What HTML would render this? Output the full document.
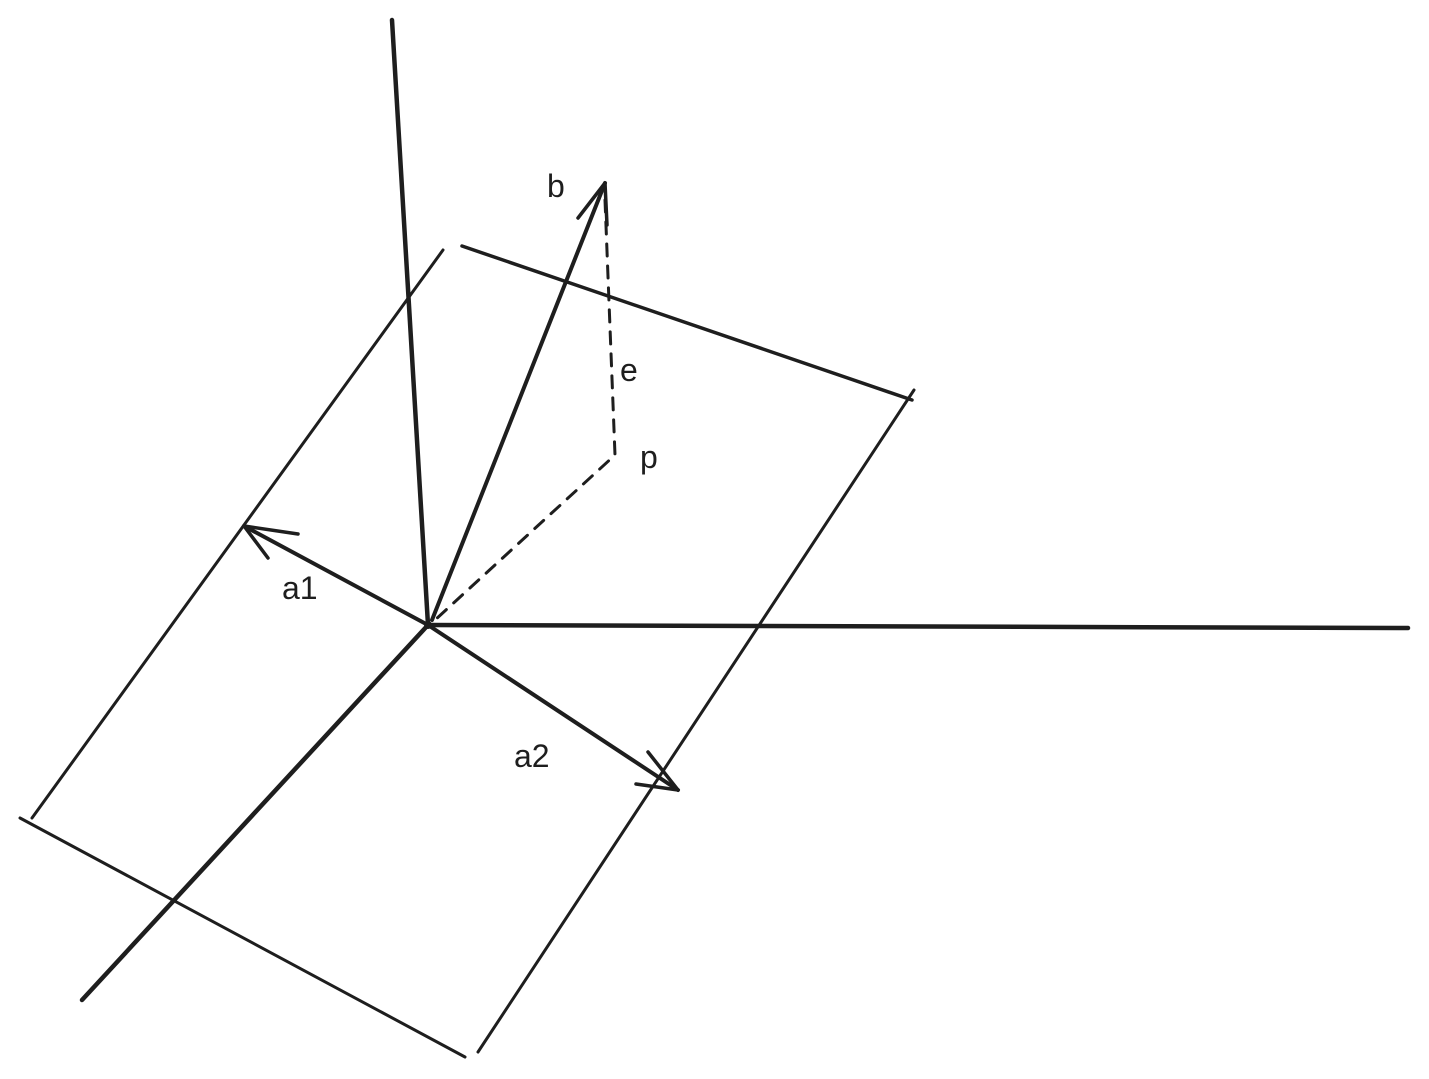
<!DOCTYPE html>
<html><head><meta charset="utf-8"><style>
html,body{margin:0;padding:0;background:#fff;}
svg{display:block;}
text{font-family:"Liberation Sans",sans-serif;font-size:32px;fill:#1e1e1e;}
</style></head><body>
<svg width="1429" height="1079" viewBox="0 0 1429 1079" xmlns="http://www.w3.org/2000/svg">
<g stroke="#1e1e1e" fill="none" stroke-linecap="round" stroke-linejoin="round">
<!-- axes -->
<path d="M392 20 L428 625" stroke-width="4.5"/>
<path d="M428 625 L1408 628" stroke-width="4.5"/>
<path d="M428 625 L82 1000" stroke-width="4.5"/>
<!-- plane -->
<path d="M443 250 L32 818" stroke-width="3"/>
<path d="M462 246 L912 400" stroke-width="3.5"/>
<path d="M914 390 L478 1052" stroke-width="3"/>
<path d="M20 818 L465 1057" stroke-width="3"/>
<!-- a1 -->
<path d="M428 625 L244 526" stroke-width="4"/>
<path d="M244 526 L298 534 M244 526 L268 558" stroke-width="3.5"/>
<!-- a2 -->
<path d="M428 625 L678 790" stroke-width="4"/>
<path d="M678 790 L648 752 M678 790 L636 784" stroke-width="3.5"/>
<!-- b -->
<path d="M432 620 L605 183" stroke-width="4"/>
<path d="M605 183 L578 218 M605 183 L607 225" stroke-width="3.5"/>
<!-- dashed -->
<path d="M605 200 L615 455 L435 620" stroke-width="3" stroke-dasharray="12 10"/>
</g>
<circle cx="428" cy="625" r="4" fill="#1e1e1e"/>
<text x="547" y="197">b</text>
<text x="620" y="381">e</text>
<text x="640" y="468">p</text>
<text x="282" y="599">a1</text>
<text x="514" y="767">a2</text>
</svg>
</body></html>
